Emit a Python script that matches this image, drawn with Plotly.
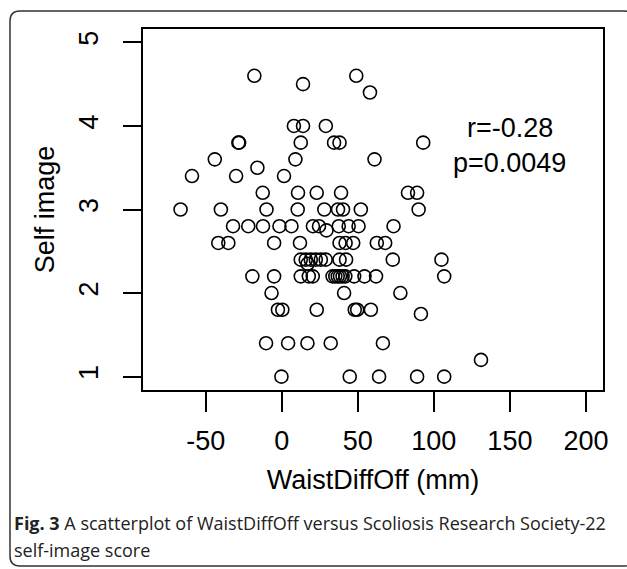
import plotly.graph_objects as go

# ---- data ----
waist_diff = [
    -18, 49,                      # 4.6
    14,                           # 4.5
    58,                           # 4.4
    8, 14, 29,                    # 4.0
    -28.5, -28, 12.5, 34.4, 38, 93,   # 3.8
    -44, 9, 61,                   # 3.6
    -16,                          # 3.5
    -59, -30, 1.5,                # 3.4
    -12.5, 10.7, 23, 39, 83, 89,  # 3.2
    -66.5, -40, -10, 10.5, 28, 37, 40.3, 52, 90,   # 3.0
    -32, -22, -12.3, -1.5, 6.4, 20.5, 24.5, 37.5, 44, 50.5, 73.5,  # 2.8
    29.4,                         # 2.75
    -41.7, -35.1, -5, 12, 38, 42, 47, 62.5, 68,     # 2.6
    12.5, 15.8, 19.1, 22.4, 25.7, 28.9, 38, 42.3, 73, 105,  # 2.4
    17,                           # 2.35
    -19.3, -5, 12.5, 17.8, 20.4, 33.4, 35.2, 36.8, 38.3, 40, 41.8, 47.6, 54.4, 62, 106.8,  # 2.2
    -6.7, 41, 78,                 # 2.0
    -2.5, 0.4, 23, 48, 49.6, 58.6,  # 1.8
    91.5,                         # 1.75
    -10.3, 4.2, 16.9, 32.2, 66.5, # 1.4
    131,                          # 1.2
    -0.2, 44.7, 64, 89, 106.8,    # 1.0
]
self_image = (
    [4.6] * 2 + [4.5] * 1 + [4.4] * 1 + [4.0] * 3 + [3.8] * 6 + [3.6] * 3 + [3.5] * 1
    + [3.4] * 3 + [3.2] * 6 + [3.0] * 9 + [2.8] * 11 + [2.75] * 1 + [2.6] * 9
    + [2.4] * 10 + [2.35] * 1 + [2.2] * 15 + [2.0] * 3 + [1.8] * 6 + [1.75] * 1
    + [1.4] * 5 + [1.2] * 1 + [1.0] * 5
)

x_ticks = [-50, 0, 50, 100, 150, 200]
x_tick_labels = ["-50", "0", "50", "100", "150", "200"]
y_ticks = [1, 2, 3, 4, 5]
y_tick_labels = ["1", "2", "3", "4", "5"]
x_title = "WaistDiffOff (mm)"
y_title = "Self image"
stat_lines = ["r=-0.28", "p=0.0049"]
caption_bold = "Fig. 3"
caption_line1 = " A scatterplot of WaistDiffOff versus Scoliosis Research Society-22"
caption_line2 = "self-image score"

# ---- layout geometry (pixels) ----
W, H = 627, 569
L, R, T, B = 143, 603, 29, 390
pw, ph = R - L, B - T


def px(x):
    return (x - L) / pw


def py(y):
    return (B - y) / ph


FONT = "Liberation Sans, Arial, Helvetica, sans-serif"
CAP_FONT = "Open Sans, Noto Sans, sans-serif"

fig = go.Figure()
fig.add_trace(go.Scatter(
    x=waist_diff, y=self_image, mode="markers",
    marker=dict(symbol="circle-open", size=13, color="black",
                line=dict(width=1.6, color="black")),
    showlegend=False, hoverinfo="skip",
))

fig.add_annotation(x=150, y=3.98, text=stat_lines[0], showarrow=False,
                   font=dict(family=FONT, size=27, color="black"),
                   xref="x", yref="y", xanchor="center", yanchor="middle")
fig.add_annotation(x=150, y=3.56, text=stat_lines[1], showarrow=False,
                   font=dict(family=FONT, size=27, color="black"),
                   xref="x", yref="y", xanchor="center", yanchor="middle")

# caption
fig.add_annotation(x=px(12), y=py(523), xref="paper", yref="paper",
                   text="<b>" + caption_bold + "</b>" + caption_line1,
                   showarrow=False, xanchor="left", yanchor="middle",
                   font=dict(family=CAP_FONT, size=18, color="#222"))
fig.add_annotation(x=px(12), y=py(550), xref="paper", yref="paper",
                   text=caption_line2,
                   showarrow=False, xanchor="left", yanchor="middle",
                   font=dict(family=CAP_FONT, size=18, color="#222"))

# outer rounded frame
x0, y0, x1, y1, r = 10, 11, 634, 566, 10
path = (f"M {px(x0)},{py(y0 + r)} "
        f"Q {px(x0)},{py(y0)} {px(x0 + r)},{py(y0)} "
        f"L {px(x1 - r)},{py(y0)} "
        f"Q {px(x1)},{py(y0)} {px(x1)},{py(y0 + r)} "
        f"L {px(x1)},{py(y1 - r)} "
        f"Q {px(x1)},{py(y1)} {px(x1 - r)},{py(y1)} "
        f"L {px(x0 + r)},{py(y1)} "
        f"Q {px(x0)},{py(y1)} {px(x0)},{py(y1 - r)} Z")
fig.add_shape(type="path", path=path, xref="paper", yref="paper",
              line=dict(color="#333", width=1.5), layer="below")

fig.update_layout(
    width=W, height=H,
    margin=dict(l=L, r=W - R, t=T, b=H - B),
    paper_bgcolor="white", plot_bgcolor="white",
    font=dict(family=FONT, size=27, color="black"),
    xaxis=dict(range=[-91.2, 211.2], tickvals=x_ticks, ticktext=x_tick_labels,
               ticks="outside", ticklen=20, ticklabelstandoff=6,
               tickwidth=1.5, tickcolor="black", showgrid=False, zeroline=False,
               showline=True, mirror=True, linecolor="black", linewidth=1.5,
               tickfont=dict(size=27), title=dict(text=x_title, font=dict(size=27), standoff=15)),
    yaxis=dict(range=[0.84, 5.16], tickvals=y_ticks, ticktext=y_tick_labels,
               ticks="outside", ticklen=18, ticklabelstandoff=14,
               tickwidth=1.5, tickcolor="black", showgrid=False, zeroline=False,
               showline=True, mirror=True, linecolor="black", linewidth=1.5,
               tickangle=-90, tickfont=dict(size=27),
               title=dict(text=y_title, font=dict(size=27), standoff=12)),
)

fig.write_html("out.html", config={"displayModeBar": False},
               post_script="document.body.style.margin='0px';")
